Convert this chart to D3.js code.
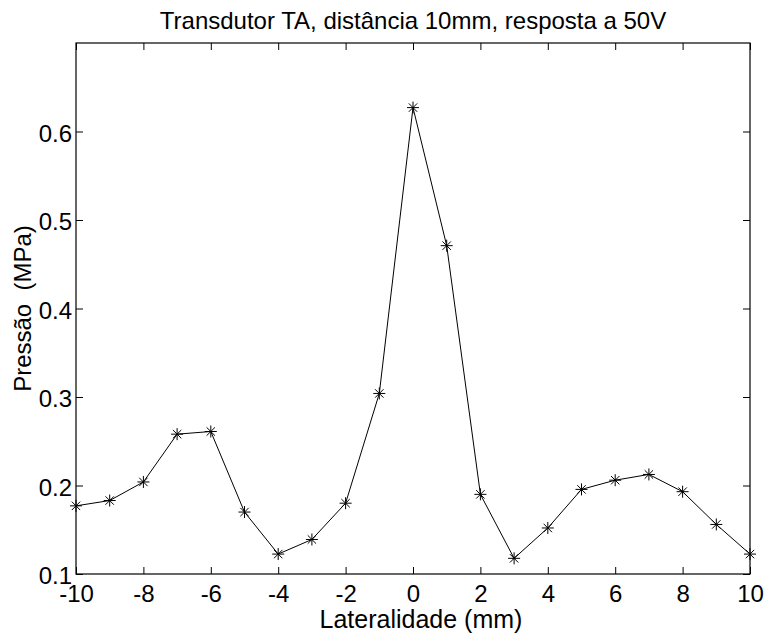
<!DOCTYPE html>
<html><head><meta charset="utf-8">
<script src="https://cdn.jsdelivr.net/npm/d3@7"></script>
<style>body{margin:0;background:#fff}svg{display:block}text{font-family:"Liberation Sans",Arial,Helvetica,sans-serif;fill:#000;white-space:pre}</style>
</head><body>
<script>
const lateral = [-10,-9,-8,-7,-6,-5,-4,-3,-2,-1,0,1,2,3,4,5,6,7,8,9,10];
const pressure = [0.177,0.183,0.204,0.258,0.261,0.170,0.1225,0.139,0.180,0.304,0.627,0.471,0.190,0.1177,0.152,0.1956,0.206,0.2125,0.193,0.156,0.1225];
const xTicks = [-10,-8,-6,-4,-2,0,2,4,6,8,10];
const yTicks = [0.1,0.2,0.3,0.4,0.5,0.6];
const titleText = "Transdutor TA, distância 10mm, resposta a 50V";
const xLabel = "Lateralidade (mm)";
const yLabel = "Pressão  (MPa)";

const W=769,H=637;
const m={l:76,r:19,t:43,b:63};
const svg=d3.select("body").append("svg").attr("width",W).attr("height",H);
const x=d3.scaleLinear().domain([-10,10]).range([m.l,W-m.r]);
const y=d3.scaleLinear().domain([0.1,0.7]).range([H-m.b,m.t]);
const tl=7, fs=24;

svg.append("rect").attr("x",x(-10)).attr("y",y(0.7)).attr("width",x(10)-x(-10)).attr("height",y(0.1)-y(0.7))
  .attr("fill","none").attr("stroke","#000").attr("stroke-width",1.2);

const ax=svg.append("g").attr("transform",`translate(0,${y(0.1)})`)
  .call(d3.axisBottom(x).tickValues(xTicks).tickSize(-tl).tickFormat(d=>String(d)));
const axT=svg.append("g").attr("transform",`translate(0,${y(0.7)})`)
  .call(d3.axisTop(x).tickValues(xTicks).tickSize(-tl).tickFormat(""));
const ay=svg.append("g").attr("transform",`translate(${x(-10)},0)`)
  .call(d3.axisLeft(y).tickValues(yTicks).tickSize(-tl).tickFormat(d3.format(".1f")));
const ayR=svg.append("g").attr("transform",`translate(${x(10)},0)`)
  .call(d3.axisRight(y).tickValues(yTicks).tickSize(-tl).tickFormat(""));
[ax,axT,ay,ayR].forEach(g=>{g.select(".domain").remove();g.selectAll("line").attr("stroke","#000");
  g.selectAll("text").style("font-size",fs+"px").style("font-family","'Liberation Sans',Arial,sans-serif").attr("fill","#000");});
ax.selectAll("text").attr("dy","0.71em").attr("y",11);
ay.selectAll("text").attr("dy","0.4em").attr("x",-4);

const line=d3.line().x((d,i)=>x(lateral[i])).y(d=>y(d));
svg.append("path").datum(pressure).attr("d",line).attr("fill","none").attr("stroke","#000").attr("stroke-width",1);

const s=6;
const mk=svg.append("g").selectAll("g").data(pressure).join("g")
  .attr("transform",(d,i)=>`translate(${x(lateral[i])},${y(d)})`);
mk.append("path").attr("d",`M${-s},0H${s}M0,${-s}V${s}M${-s*0.7},${-s*0.7}L${s*0.7},${s*0.7}M${-s*0.7},${s*0.7}L${s*0.7},${-s*0.7}`)
  .attr("stroke","#000").attr("stroke-width",1);

svg.append("text").attr("x",(x(-10)+x(10))/2).attr("y",29).attr("text-anchor","middle").style("font-size","24px").text(titleText);
svg.append("text").attr("x",421).attr("y",628).attr("text-anchor","middle").style("font-size","25px").text(xLabel);
svg.append("text").attr("transform",`translate(31,${(y(0.1)+y(0.7))/2}) rotate(-90)`).attr("text-anchor","middle").style("font-size","24px").text(yLabel);
</script>
</body></html>
